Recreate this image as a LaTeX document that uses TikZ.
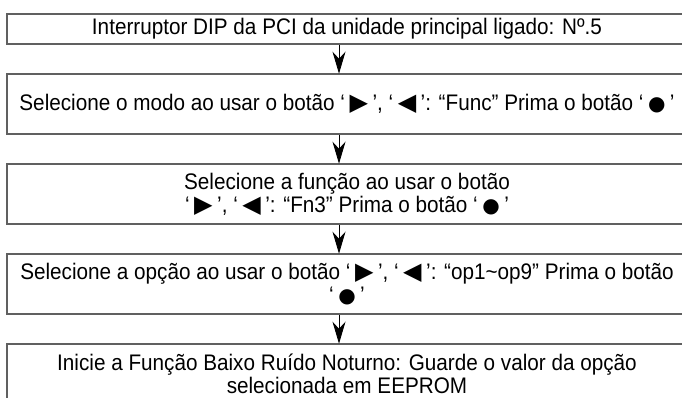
\documentclass[tikz,border=0pt]{standalone}
\usepackage{fontspec}
\setmainfont{Liberation Sans}[FakeStretch=0.92]
\newfontfamily\simbfont{DejaVu Sans}
\usetikzlibrary{arrows.meta}

% símbolos dos botões
\newcommand{\btdir}{\kern4.5pt{\simbfont\fontsize{24}{24}\selectfont ▶}\kern4.5pt}
\newcommand{\btesq}{\kern4.5pt{\simbfont\fontsize{24}{24}\selectfont ◀}\kern4.5pt}
\newcommand{\btok}{\kern4.5pt{\simbfont\fontsize{20}{20}\selectfont ●}\kern4.5pt}

\begin{document}
\begin{tikzpicture}[x=1pt, y=-1pt,
  caixa/.style ={rectangle, draw=gray!75!black, line width=1.6pt,
                 minimum width=680pt, minimum height=60pt,
                 inner sep=0pt, align=center,
                 font=\fontsize{22.5}{23}\selectfont},
  caixab/.style={caixa, minimum height=30pt},
  seta/.style  ={-{Stealth[length=22pt, width=13pt, inset=7pt]},
                 line width=0.9pt, black, shorten >=-0.5pt},
]
\useasboundingbox (0,0) rectangle (682,397);
\clip (0,0) rectangle (682,397);

%% ═══ Caixas ═══
\node[caixab] (interruptor) at (347, 29)
  {Interruptor DIP da PCI da unidade principal ligado: Nº.5};
\node[caixa]  (modo)   at (347, 104)
  {Selecione o modo ao usar o botão ‘\btdir’, ‘\btesq’: “Func” Prima o botão ‘\btok’};
\node[caixa]  (funcao) at (347, 194)
  {Selecione a função ao usar o botão\\
   ‘\btdir’, ‘\btesq’: “Fn3” Prima o botão ‘\btok’};
\node[caixa]  (opcao)  at (347, 284)
  {Selecione a opção ao usar o botão ‘\btdir’, ‘\btesq’: “op1\textasciitilde op9” Prima o botão\\
   ‘\btok’};
\node[caixa]  (inicie) at (347, 374)
  {Inicie a Função Baixo Ruído Noturno: Guarde o valor da opção\\
   selecionada em EEPROM};

%% ═══ Setas ═══
\draw[seta] ([xshift=-8pt]interruptor.south) -- ([xshift=-8pt]modo.north);
\draw[seta] ([xshift=-8pt]modo.south)        -- ([xshift=-8pt]funcao.north);
\draw[seta] ([xshift=-8pt]funcao.south)      -- ([xshift=-8pt]opcao.north);
\draw[seta] ([xshift=-8pt]opcao.south)       -- ([xshift=-8pt]inicie.north);

\end{tikzpicture}
\end{document}
